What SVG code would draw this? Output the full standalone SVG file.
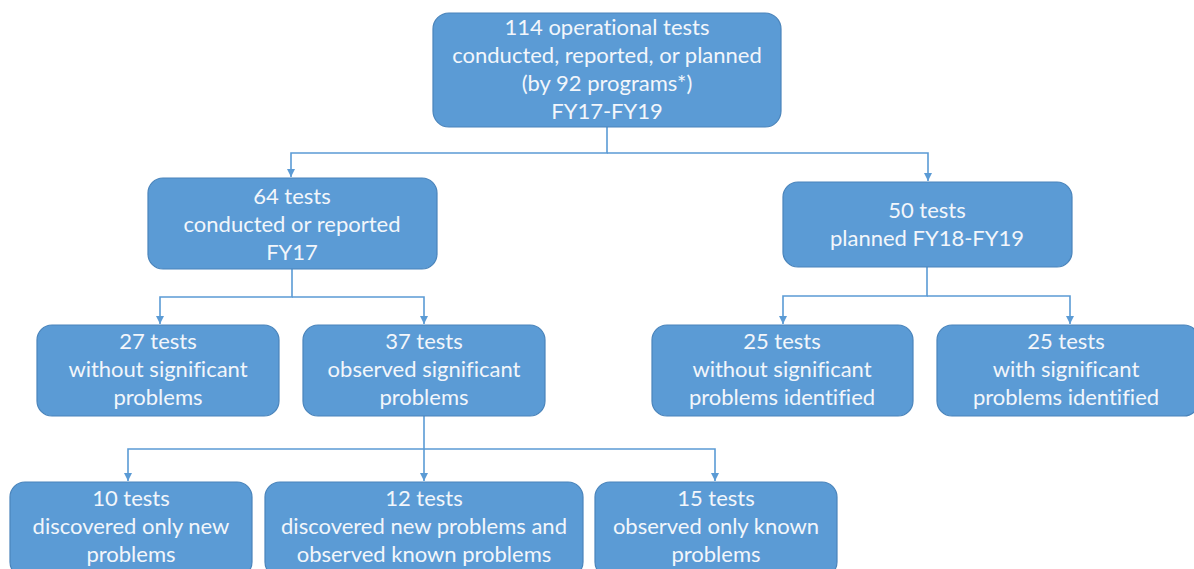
<svg xmlns="http://www.w3.org/2000/svg" width="1194" height="569" viewBox="0 0 1194 569">
<defs>
<style>
.box{fill:#5b9bd5;stroke:#4a84bb;stroke-width:1.2}
.t{font-family:Lato,"Open Sans",sans-serif;font-size:22px;fill:#f2f6fb;text-anchor:middle;font-variant-ligatures:none}
.c{fill:none;stroke:#5b9bd5;stroke-width:1.6}
</style>
<marker id="ah" viewBox="0 0 10 10" refX="10" refY="5" markerWidth="8" markerHeight="8" markerUnits="userSpaceOnUse" orient="auto">
<path d="M0,0 L10,5 L0,10 z" fill="#5b9bd5"/>
</marker>
</defs>
<rect width="1194" height="569" fill="#ffffff"/>
<g id="connectors">
<path class="c" d="M607,127 V153 H291 V177" marker-end="url(#ah)"/>
<path class="c" d="M607,153 H928 V181" marker-end="url(#ah)"/>
<path class="c" d="M292,269 V297 H160 V324" marker-end="url(#ah)"/>
<path class="c" d="M292,297 H424 V324" marker-end="url(#ah)"/>
<path class="c" d="M927,267 V296 H783 V324" marker-end="url(#ah)"/>
<path class="c" d="M927,296 H1070 V324" marker-end="url(#ah)"/>
<path class="c" d="M424,416 V449 H128 V481" marker-end="url(#ah)"/>
<path class="c" d="M424,449 V481" marker-end="url(#ah)"/>
<path class="c" d="M424,449 H715 V481" marker-end="url(#ah)"/>
</g>
<g id="n114">
<rect class="box" x="433" y="13" width="348" height="114" rx="16"/>
<text class="t" x="607" y="35">114 operational tests</text>
<text class="t" x="607" y="63">conducted, reported, or planned</text>
<text class="t" x="607" y="91">(by 92 programs*)</text>
<text class="t" x="607" y="119">FY17-FY19</text>
</g>
<g id="n64">
<rect class="box" x="148" y="178" width="289" height="91" rx="15"/>
<text class="t" x="292" y="204">64 tests</text>
<text class="t" x="292" y="232">conducted or reported</text>
<text class="t" x="292" y="260">FY17</text>
</g>
<g id="n50">
<rect class="box" x="783" y="182" width="289" height="85" rx="15"/>
<text class="t" x="927" y="218">50 tests</text>
<text class="t" x="927" y="246">planned FY18-FY19</text>
</g>
<g id="n27">
<rect class="box" x="37" y="325" width="242" height="91" rx="15"/>
<text class="t" x="158" y="349">27 tests</text>
<text class="t" x="158" y="377">without significant</text>
<text class="t" x="158" y="405">problems</text>
</g>
<g id="n37">
<rect class="box" x="303" y="325" width="242" height="91" rx="15"/>
<text class="t" x="424" y="349">37 tests</text>
<text class="t" x="424" y="377">observed significant</text>
<text class="t" x="424" y="405">problems</text>
</g>
<g id="n25a">
<rect class="box" x="652" y="325" width="261" height="91" rx="15"/>
<text class="t" x="782" y="349">25 tests</text>
<text class="t" x="782" y="377">without significant</text>
<text class="t" x="782" y="405">problems identified</text>
</g>
<g id="n25b">
<rect class="box" x="937" y="325" width="262" height="91" rx="15"/>
<text class="t" x="1066" y="349">25 tests</text>
<text class="t" x="1066" y="377">with significant</text>
<text class="t" x="1066" y="405">problems identified</text>
</g>
<g id="n10">
<rect class="box" x="10" y="482" width="242" height="95" rx="15"/>
<text class="t" x="131" y="506">10 tests</text>
<text class="t" x="131" y="534">discovered only new</text>
<text class="t" x="131" y="562">problems</text>
</g>
<g id="n12">
<rect class="box" x="265" y="482" width="318" height="95" rx="15"/>
<text class="t" x="424" y="506">12 tests</text>
<text class="t" x="424" y="534">discovered new problems and</text>
<text class="t" x="424" y="562">observed known problems</text>
</g>
<g id="n15">
<rect class="box" x="595" y="482" width="242" height="95" rx="15"/>
<text class="t" x="716" y="506">15 tests</text>
<text class="t" x="716" y="534">observed only known</text>
<text class="t" x="716" y="562">problems</text>
</g>
</svg>
